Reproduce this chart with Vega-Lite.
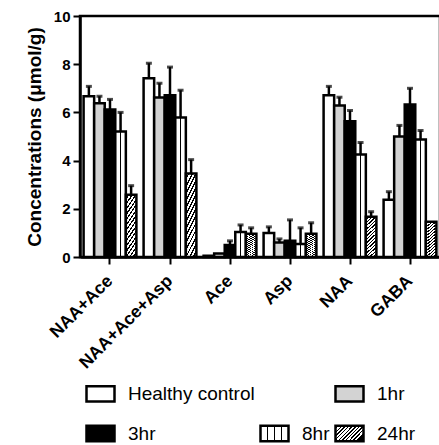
{
  "$schema": "https://vega.github.io/schema/vega-lite/v6.json",
  "width": 360,
  "height": 241,
  "padding": {"left": 25, "top": 9, "right": 5, "bottom": 5},
  "background": "white",
  "config": {
    "view": {"stroke": "black", "strokeWidth": 2.5},
    "font": "Liberation Sans",
    "axis": {"grid": false, "domainColor": "black", "domainWidth": 2.5, "tickColor": "black", "tickWidth": 2, "labelColor": "black", "titleColor": "black", "labelFont": "Liberation Sans", "titleFont": "Liberation Sans"}
  },
  "data": {"values": [
    {"metabolite": "NAA+Ace", "group": "Healthy control", "value": 6.67, "upper": 7.08},
    {"metabolite": "NAA+Ace", "group": "1hr", "value": 6.38, "upper": 6.67},
    {"metabolite": "NAA+Ace", "group": "3hr", "value": 6.12, "upper": 6.54},
    {"metabolite": "NAA+Ace", "group": "8hr", "value": 5.21, "upper": 6.0},
    {"metabolite": "NAA+Ace", "group": "24hr", "value": 2.58, "upper": 2.96},
    {"metabolite": "NAA+Ace+Asp", "group": "Healthy control", "value": 7.42, "upper": 8.04},
    {"metabolite": "NAA+Ace+Asp", "group": "1hr", "value": 6.62, "upper": 7.21},
    {"metabolite": "NAA+Ace+Asp", "group": "3hr", "value": 6.71, "upper": 7.88},
    {"metabolite": "NAA+Ace+Asp", "group": "8hr", "value": 5.79, "upper": 6.92},
    {"metabolite": "NAA+Ace+Asp", "group": "24hr", "value": 3.46, "upper": 4.04},
    {"metabolite": "Ace", "group": "Healthy control", "value": 0.05, "upper": null},
    {"metabolite": "Ace", "group": "1hr", "value": 0.15, "upper": null},
    {"metabolite": "Ace", "group": "3hr", "value": 0.5, "upper": 0.67},
    {"metabolite": "Ace", "group": "8hr", "value": 1.04, "upper": 1.33},
    {"metabolite": "Ace", "group": "24hr", "value": 0.96, "upper": 1.21},
    {"metabolite": "Asp", "group": "Healthy control", "value": 1.0, "upper": 1.25},
    {"metabolite": "Asp", "group": "1hr", "value": 0.6, "upper": 0.75},
    {"metabolite": "Asp", "group": "3hr", "value": 0.67, "upper": 1.54},
    {"metabolite": "Asp", "group": "8hr", "value": 0.54, "upper": 1.21},
    {"metabolite": "Asp", "group": "24hr", "value": 0.96, "upper": 1.42},
    {"metabolite": "NAA", "group": "Healthy control", "value": 6.71, "upper": 7.08},
    {"metabolite": "NAA", "group": "1hr", "value": 6.29, "upper": 6.63},
    {"metabolite": "NAA", "group": "3hr", "value": 5.63, "upper": 6.08},
    {"metabolite": "NAA", "group": "8hr", "value": 4.25, "upper": 4.75},
    {"metabolite": "NAA", "group": "24hr", "value": 1.67, "upper": 1.88},
    {"metabolite": "GABA", "group": "Healthy control", "value": 2.38, "upper": 2.71},
    {"metabolite": "GABA", "group": "1hr", "value": 5.0, "upper": 5.46},
    {"metabolite": "GABA", "group": "3hr", "value": 6.33, "upper": 7.0},
    {"metabolite": "GABA", "group": "8hr", "value": 4.88, "upper": 5.25},
    {"metabolite": "GABA", "group": "24hr", "value": 1.46, "upper": null}
  ]},
  "encoding": {
    "x": {
      "field": "metabolite", "type": "nominal",
      "sort": ["NAA+Ace", "NAA+Ace+Asp", "Ace", "Asp", "NAA", "GABA"],
      "scale": {"paddingInner": 0.12, "paddingOuter": 0.06},
      "axis": {"title": null, "labelAngle": -45, "labelAlign": "right", "labelBaseline": "middle", "labelFontSize": 17.5, "labelFontWeight": "bold", "tickSize": 7, "labelPadding": 14}
    },
    "xOffset": {
      "field": "group", "type": "nominal",
      "scale": {"domain": ["Healthy control", "1hr", "3hr", "8hr", "24hr"], "paddingInner": 0, "paddingOuter": 0}
    }
  },
  "layer": [
    {
      "mark": {"type": "bar", "strokeWidth": 2.5},
      "encoding": {
        "y": {
          "field": "value", "type": "quantitative",
          "scale": {"domain": [0, 10], "nice": false},
          "axis": {"title": "Concentrations (\u03bcmol/g)", "values": [0, 2, 4, 6, 8, 10], "labelFontSize": 15, "labelFontWeight": "bold", "titleFontSize": 19, "titleFontWeight": "bold", "tickSize": 7, "titlePadding": 9, "labelPadding": 3}
        },
        "fill": {
          "field": "group", "type": "nominal",
          "condition": [
            {"test": "datum.group === '8hr'", "value": {"gradient": "linear", "x1": 0, "y1": 0, "x2": 1, "y2": 0, "stops": [
                {"offset": 0, "color": "white"}, {"offset": 0.42, "color": "white"},
                {"offset": 0.42, "color": "black"}, {"offset": 0.58, "color": "black"},
                {"offset": 0.58, "color": "white"}, {"offset": 1, "color": "white"}
              ]}},
            {"test": "datum.group === '24hr'", "value": {"gradient": "linear", "x1": 0, "y1": 0, "x2": 1, "y2": 4, "stops": [
                {"offset": 0, "color": "white"}, {"offset": 0.012, "color": "white"}, {"offset": 0.012, "color": "black"}, {"offset": 0.02, "color": "black"},
                {"offset": 0.02, "color": "white"}, {"offset": 0.032, "color": "white"}, {"offset": 0.032, "color": "black"}, {"offset": 0.04, "color": "black"},
                {"offset": 0.04, "color": "white"}, {"offset": 0.052, "color": "white"}, {"offset": 0.052, "color": "black"}, {"offset": 0.06, "color": "black"},
                {"offset": 0.06, "color": "white"}, {"offset": 0.072, "color": "white"}, {"offset": 0.072, "color": "black"}, {"offset": 0.08, "color": "black"},
                {"offset": 0.08, "color": "white"}, {"offset": 0.092, "color": "white"}, {"offset": 0.092, "color": "black"}, {"offset": 0.1, "color": "black"},
                {"offset": 0.1, "color": "white"}, {"offset": 0.112, "color": "white"}, {"offset": 0.112, "color": "black"}, {"offset": 0.12, "color": "black"},
                {"offset": 0.12, "color": "white"}, {"offset": 0.132, "color": "white"}, {"offset": 0.132, "color": "black"}, {"offset": 0.14, "color": "black"},
                {"offset": 0.14, "color": "white"}, {"offset": 0.152, "color": "white"}, {"offset": 0.152, "color": "black"}, {"offset": 0.16, "color": "black"},
                {"offset": 0.16, "color": "white"}, {"offset": 0.172, "color": "white"}, {"offset": 0.172, "color": "black"}, {"offset": 0.18, "color": "black"},
                {"offset": 0.18, "color": "white"}, {"offset": 0.192, "color": "white"}, {"offset": 0.192, "color": "black"}, {"offset": 0.2, "color": "black"},
                {"offset": 0.2, "color": "white"}, {"offset": 0.212, "color": "white"}, {"offset": 0.212, "color": "black"}, {"offset": 0.22, "color": "black"},
                {"offset": 0.22, "color": "white"}, {"offset": 0.232, "color": "white"}, {"offset": 0.232, "color": "black"}, {"offset": 0.24, "color": "black"},
                {"offset": 0.24, "color": "white"}, {"offset": 0.252, "color": "white"}, {"offset": 0.252, "color": "black"}, {"offset": 0.26, "color": "black"},
                {"offset": 0.26, "color": "white"}, {"offset": 0.272, "color": "white"}, {"offset": 0.272, "color": "black"}, {"offset": 0.28, "color": "black"},
                {"offset": 0.28, "color": "white"}, {"offset": 0.292, "color": "white"}, {"offset": 0.292, "color": "black"}, {"offset": 0.3, "color": "black"},
                {"offset": 0.3, "color": "white"}, {"offset": 1, "color": "white"}
              ]}}
          ],
          "scale": {
            "domain": ["Healthy control", " ", "1hr", "3hr", "8hr", "24hr"],
            "range": [
              "white", "transparent", "#d3d3d3", "black",
              {"expr": "{gradient: 'linear', x1: 0, y1: 0, x2: 1, y2: 0, stops: [{offset: 0, color: 'white'}, {offset: 0.22, color: 'white'}, {offset: 0.22, color: 'black'}, {offset: 0.28, color: 'black'}, {offset: 0.28, color: 'white'}, {offset: 0.47, color: 'white'}, {offset: 0.47, color: 'black'}, {offset: 0.53, color: 'black'}, {offset: 0.53, color: 'white'}, {offset: 0.72, color: 'white'}, {offset: 0.72, color: 'black'}, {offset: 0.78, color: 'black'}, {offset: 0.78, color: 'white'}, {offset: 1, color: 'white'}]}"},
              {"expr": "{gradient: 'linear', x1: 0, y1: 0, x2: 1, y2: 0.54, stops: [{offset: 0, color: 'white'}, {offset: 0.06, color: 'white'}, {offset: 0.06, color: 'black'}, {offset: 0.1, color: 'black'}, {offset: 0.1, color: 'white'}, {offset: 0.16, color: 'white'}, {offset: 0.16, color: 'black'}, {offset: 0.2, color: 'black'}, {offset: 0.2, color: 'white'}, {offset: 0.26, color: 'white'}, {offset: 0.26, color: 'black'}, {offset: 0.3, color: 'black'}, {offset: 0.3, color: 'white'}, {offset: 0.36, color: 'white'}, {offset: 0.36, color: 'black'}, {offset: 0.4, color: 'black'}, {offset: 0.4, color: 'white'}, {offset: 0.46, color: 'white'}, {offset: 0.46, color: 'black'}, {offset: 0.5, color: 'black'}, {offset: 0.5, color: 'white'}, {offset: 0.56, color: 'white'}, {offset: 0.56, color: 'black'}, {offset: 0.6, color: 'black'}, {offset: 0.6, color: 'white'}, {offset: 0.66, color: 'white'}, {offset: 0.66, color: 'black'}, {offset: 0.7, color: 'black'}, {offset: 0.7, color: 'white'}, {offset: 0.76, color: 'white'}, {offset: 0.76, color: 'black'}, {offset: 0.8, color: 'black'}, {offset: 0.8, color: 'white'}, {offset: 0.86, color: 'white'}, {offset: 0.86, color: 'black'}, {offset: 0.9, color: 'black'}, {offset: 0.9, color: 'white'}, {offset: 0.96, color: 'white'}, {offset: 0.96, color: 'black'}, {offset: 1, color: 'black'}]}"}
            ]
          },
          "legend": {
            "title": null, "orient": "none", "legendX": 5, "legendY": 362, "direction": "horizontal",
            "values": ["Healthy control", " ", "1hr", "3hr", "8hr", "24hr"],
            "columns": 3, "columnPadding": 0, "rowPadding": 11,
            "labelFont": "Liberation Sans", "labelFontSize": 19, "labelColor": "black", "labelOffset": 12,
            "symbolType": "M-1,-0.55H1V0.55H-1Z", "symbolSize": 784, "symbolStrokeWidth": 2.5, "labelLimit": 300
          }
        },
        "stroke": {
          "field": "group", "type": "nominal",
          "scale": {"domain": ["Healthy control", " ", "1hr", "3hr", "8hr", "24hr"], "range": ["black", "transparent", "black", "black", "black", "black"]},
          "legend": null
        }
      }
    },
    {
      "mark": {"type": "rule", "color": "black", "strokeWidth": 2.5},
      "encoding": {
        "y": {"field": "value", "type": "quantitative"},
        "y2": {"field": "upper"}
      }
    },
    {
      "mark": {"type": "tick", "color": "black", "size": 6, "thickness": 3},
      "encoding": {
        "y": {"field": "upper", "type": "quantitative"}
      }
    }
  ]
}
